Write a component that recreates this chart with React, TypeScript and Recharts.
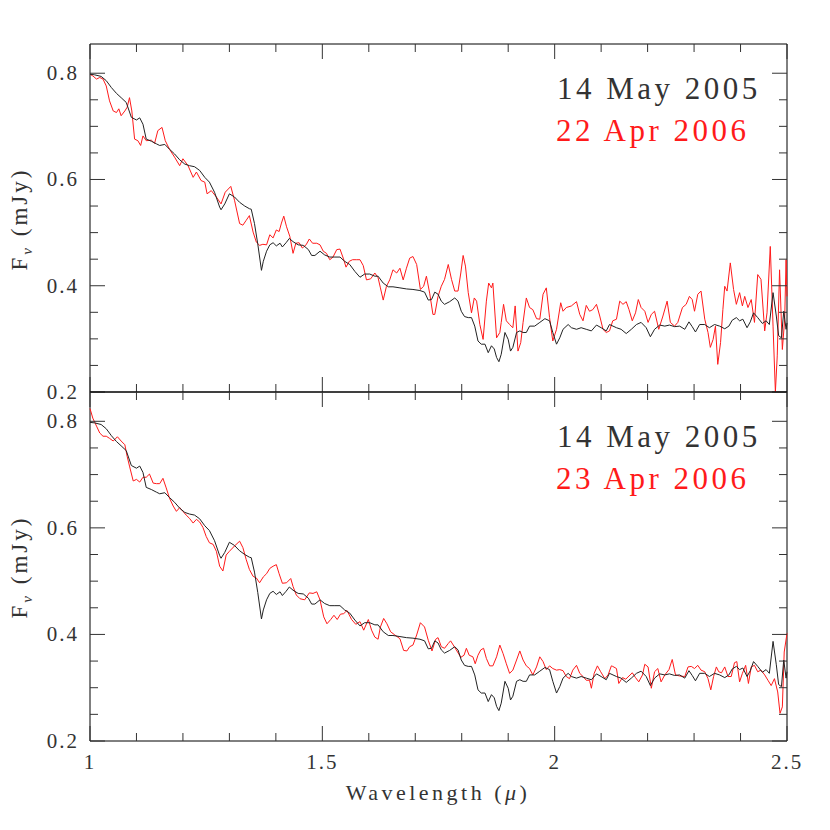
import React from "react";
import { LineChart, Line, XAxis, YAxis, ReferenceArea } from "recharts";

// Axis ticks (microns / mJy)
const wavelengthTicks = [1, 1.1, 1.2, 1.3, 1.4, 1.5, 1.6, 1.7, 1.8, 1.9, 2, 2.1, 2.2, 2.3, 2.4, 2.5];
const wavelengthLabels = [1, 1.5, 2, 2.5];
const fluxTicks = [0.2, 0.25, 0.3, 0.35, 0.4, 0.45, 0.5, 0.55, 0.6, 0.65, 0.7, 0.75, 0.8];
const fluxLabels = [0.2, 0.4, 0.6, 0.8];

// 14 May 2005 spectrum (black, same in both panels)
const may2005Wave = [
  1.0, 1.01, 1.024, 1.035, 1.046, 1.057, 1.067, 1.078, 1.089, 1.1, 1.107, 1.114, 1.121, 1.132, 1.143, 1.15,
  1.161, 1.171, 1.182, 1.193, 1.204, 1.214, 1.225, 1.236, 1.247, 1.257, 1.268, 1.279, 1.282, 1.29, 1.3, 1.311,
  1.322, 1.333, 1.343, 1.347, 1.354, 1.361, 1.369, 1.373, 1.38, 1.387, 1.394, 1.401, 1.409, 1.414, 1.422, 1.429,
  1.437, 1.448, 1.459, 1.47, 1.477, 1.484, 1.495, 1.505, 1.516, 1.527, 1.538, 1.548, 1.559, 1.57, 1.581, 1.591,
  1.602, 1.613, 1.62, 1.631, 1.642, 1.652, 1.667, 1.681, 1.695, 1.71, 1.72, 1.728, 1.735, 1.742, 1.749, 1.756,
  1.763, 1.774, 1.785, 1.792, 1.799, 1.806, 1.814, 1.821, 1.828, 1.835, 1.842, 1.85, 1.857, 1.864, 1.87, 1.875,
  1.88, 1.885, 1.893, 1.9, 1.905, 1.91, 1.918, 1.925, 1.932, 1.939, 1.946, 1.957, 1.968, 1.979, 1.989, 1.996,
  2.004, 2.011, 2.018, 2.029, 2.036, 2.047, 2.057, 2.068, 2.079, 2.09, 2.1, 2.111, 2.118, 2.133, 2.143, 2.154,
  2.165, 2.176, 2.186, 2.197, 2.206, 2.215, 2.226, 2.237, 2.247, 2.258, 2.269, 2.28, 2.289, 2.296, 2.303, 2.312,
  2.323, 2.333, 2.344, 2.355, 2.366, 2.375, 2.382, 2.391, 2.398, 2.405, 2.414, 2.421, 2.428, 2.437, 2.447, 2.455,
  2.462, 2.47, 2.477, 2.482, 2.488, 2.493, 2.498, 2.5,
];
const may2005Flux = [
  0.798, 0.797, 0.794, 0.786, 0.773, 0.762, 0.754, 0.745, 0.717, 0.712, 0.716, 0.704, 0.676, 0.672, 0.667, 0.664,
  0.666, 0.657, 0.648, 0.637, 0.629, 0.626, 0.624, 0.617, 0.604, 0.595, 0.576, 0.548, 0.543, 0.554, 0.573, 0.567,
  0.557, 0.55, 0.545, 0.544, 0.517, 0.479, 0.429, 0.446, 0.465, 0.477, 0.481, 0.475, 0.48, 0.473, 0.481, 0.489,
  0.483, 0.477, 0.476, 0.468, 0.457, 0.457, 0.465, 0.458, 0.454, 0.454, 0.454, 0.446, 0.44, 0.427, 0.416, 0.422,
  0.422, 0.418, 0.418, 0.405, 0.398, 0.398, 0.396, 0.394, 0.393, 0.391, 0.388, 0.373, 0.374, 0.388, 0.384, 0.371,
  0.365, 0.37, 0.377, 0.371, 0.352, 0.342, 0.34, 0.34, 0.324, 0.296, 0.29, 0.29, 0.274, 0.287, 0.281, 0.265,
  0.257, 0.271, 0.312, 0.299, 0.277, 0.284, 0.312, 0.315, 0.312, 0.312, 0.324, 0.324, 0.331, 0.338, 0.334, 0.312,
  0.29, 0.302, 0.318, 0.327, 0.321, 0.318, 0.321, 0.318, 0.315, 0.326, 0.321, 0.315, 0.327, 0.321, 0.318, 0.31,
  0.318, 0.327, 0.331, 0.321, 0.304, 0.318, 0.326, 0.324, 0.326, 0.323, 0.324, 0.318, 0.332, 0.323, 0.313, 0.327,
  0.327, 0.321, 0.327, 0.324, 0.319, 0.324, 0.335, 0.34, 0.334, 0.337, 0.321, 0.332, 0.349, 0.34, 0.329, 0.334,
  0.327, 0.387, 0.343, 0.306, 0.302, 0.352, 0.318, 0.33,
];

// 22 Apr 2006 spectrum (red, top panel)
const apr22Wave = [
  1.0, 1.006, 1.014, 1.021, 1.028, 1.035, 1.042, 1.05, 1.057, 1.062, 1.067, 1.075, 1.08, 1.085, 1.09, 1.096,
  1.103, 1.109, 1.114, 1.121, 1.132, 1.139, 1.146, 1.155, 1.162, 1.171, 1.182, 1.193, 1.2, 1.211, 1.222, 1.229,
  1.239, 1.247, 1.252, 1.261, 1.272, 1.282, 1.291, 1.303, 1.311, 1.322, 1.329, 1.336, 1.343, 1.351, 1.358, 1.365,
  1.372, 1.38, 1.387, 1.394, 1.401, 1.407, 1.412, 1.417, 1.423, 1.43, 1.437, 1.443, 1.45, 1.457, 1.465, 1.472,
  1.479, 1.488, 1.495, 1.502, 1.509, 1.516, 1.523, 1.531, 1.538, 1.545, 1.551, 1.558, 1.565, 1.574, 1.581, 1.588,
  1.595, 1.604, 1.613, 1.62, 1.625, 1.631, 1.638, 1.645, 1.652, 1.66, 1.667, 1.674, 1.681, 1.688, 1.695, 1.703,
  1.711, 1.718, 1.724, 1.731, 1.738, 1.742, 1.749, 1.756, 1.763, 1.771, 1.778, 1.785, 1.792, 1.798, 1.803, 1.808,
  1.814, 1.821, 1.827, 1.832, 1.839, 1.846, 1.853, 1.858, 1.864, 1.867, 1.875, 1.882, 1.885, 1.89, 1.896, 1.903,
  1.91, 1.915, 1.921, 1.927, 1.932, 1.939, 1.946, 1.953, 1.961, 1.968, 1.975, 1.982, 1.989, 1.996, 2.004, 2.013,
  2.018, 2.025, 2.036, 2.047, 2.054, 2.061, 2.068, 2.075, 2.082, 2.09, 2.097, 2.104, 2.111, 2.118, 2.125, 2.133,
  2.14, 2.147, 2.154, 2.16, 2.167, 2.174, 2.18, 2.186, 2.194, 2.201, 2.208, 2.215, 2.224, 2.233, 2.242, 2.249,
  2.258, 2.265, 2.275, 2.283, 2.29, 2.296, 2.301, 2.308, 2.315, 2.323, 2.33, 2.335, 2.341, 2.346, 2.351, 2.357,
  2.362, 2.366, 2.371, 2.378, 2.385, 2.391, 2.398, 2.404, 2.409, 2.416, 2.423, 2.43, 2.437, 2.444, 2.452, 2.457,
  2.464, 2.47, 2.475, 2.479, 2.484, 2.49, 2.495, 2.498, 2.5,
];
const apr22Flux = [
  0.798, 0.795, 0.789, 0.792, 0.789, 0.776, 0.748, 0.729, 0.726, 0.733, 0.72, 0.729, 0.736, 0.754, 0.729, 0.676,
  0.673, 0.664, 0.682, 0.673, 0.674, 0.668, 0.692, 0.698, 0.673, 0.657, 0.642, 0.626, 0.639, 0.626, 0.604, 0.614,
  0.598, 0.595, 0.573, 0.579, 0.567, 0.554, 0.576, 0.587, 0.561, 0.517, 0.514, 0.523, 0.532, 0.501, 0.482, 0.476,
  0.478, 0.477, 0.496, 0.49, 0.505, 0.502, 0.518, 0.531, 0.511, 0.493, 0.461, 0.48, 0.481, 0.471, 0.477, 0.488,
  0.48, 0.48, 0.477, 0.465, 0.461, 0.449, 0.454, 0.468, 0.469, 0.452, 0.435, 0.446, 0.449, 0.449, 0.449, 0.438,
  0.411, 0.413, 0.424, 0.415, 0.396, 0.373, 0.399, 0.411, 0.43, 0.424, 0.433, 0.411, 0.433, 0.452, 0.455, 0.44,
  0.393, 0.399, 0.418, 0.386, 0.346, 0.346, 0.38, 0.399, 0.412, 0.44, 0.412, 0.39, 0.39, 0.424, 0.457, 0.437,
  0.387, 0.349, 0.377, 0.371, 0.327, 0.299, 0.371, 0.405, 0.396, 0.405, 0.302, 0.312, 0.331, 0.365, 0.334, 0.327,
  0.321, 0.362, 0.277, 0.293, 0.331, 0.377, 0.359, 0.355, 0.338, 0.337, 0.384, 0.396, 0.34, 0.296, 0.318, 0.368,
  0.352, 0.359, 0.362, 0.37, 0.346, 0.334, 0.363, 0.352, 0.355, 0.365, 0.343, 0.318, 0.312, 0.315, 0.334, 0.337,
  0.371, 0.365, 0.37, 0.355, 0.334, 0.349, 0.374, 0.359, 0.352, 0.331, 0.346, 0.352, 0.318, 0.343, 0.371, 0.331,
  0.324, 0.331, 0.359, 0.365, 0.38, 0.374, 0.352, 0.384, 0.39, 0.337, 0.312, 0.284, 0.299, 0.324, 0.252, 0.293,
  0.355, 0.399, 0.39, 0.443, 0.393, 0.365, 0.387, 0.362, 0.38, 0.359, 0.374, 0.331, 0.421, 0.412, 0.315, 0.349,
  0.474, 0.324, 0.2, 0.268, 0.43, 0.28, 0.337, 0.449, 0.38,
];

// 23 Apr 2006 spectrum (red, bottom panel)
const apr23Wave = [
  1.0, 1.006, 1.014, 1.021, 1.028, 1.035, 1.042, 1.05, 1.059, 1.067, 1.075, 1.08, 1.085, 1.093, 1.1, 1.107,
  1.114, 1.121, 1.128, 1.136, 1.143, 1.15, 1.157, 1.164, 1.171, 1.179, 1.186, 1.193, 1.2, 1.207, 1.214, 1.222,
  1.229, 1.236, 1.243, 1.25, 1.257, 1.265, 1.272, 1.279, 1.286, 1.293, 1.3, 1.311, 1.322, 1.329, 1.336, 1.343,
  1.351, 1.358, 1.365, 1.373, 1.38, 1.387, 1.394, 1.401, 1.407, 1.414, 1.423, 1.432, 1.437, 1.444, 1.452, 1.462,
  1.472, 1.48, 1.488, 1.495, 1.503, 1.51, 1.518, 1.525, 1.532, 1.539, 1.546, 1.553, 1.563, 1.572, 1.581, 1.589,
  1.599, 1.606, 1.613, 1.62, 1.625, 1.632, 1.639, 1.647, 1.656, 1.667, 1.675, 1.682, 1.688, 1.695, 1.703, 1.711,
  1.72, 1.728, 1.736, 1.744, 1.749, 1.756, 1.763, 1.771, 1.776, 1.784, 1.791, 1.798, 1.805, 1.81, 1.816, 1.824,
  1.829, 1.835, 1.841, 1.847, 1.853, 1.86, 1.867, 1.875, 1.882, 1.889, 1.896, 1.903, 1.91, 1.918, 1.925, 1.932,
  1.939, 1.946, 1.953, 1.961, 1.968, 1.975, 1.982, 1.989, 1.996, 2.004, 2.011, 2.018, 2.025, 2.032, 2.039, 2.047,
  2.054, 2.061, 2.068, 2.075, 2.079, 2.085, 2.092, 2.099, 2.108, 2.115, 2.122, 2.125, 2.133, 2.138, 2.146, 2.153,
  2.16, 2.167, 2.174, 2.181, 2.189, 2.194, 2.201, 2.208, 2.215, 2.222, 2.229, 2.237, 2.246, 2.253, 2.26, 2.269,
  2.28, 2.287, 2.294, 2.301, 2.308, 2.315, 2.323, 2.33, 2.336, 2.342, 2.348, 2.353, 2.359, 2.366, 2.373, 2.38,
  2.387, 2.392, 2.398, 2.404, 2.411, 2.417, 2.423, 2.43, 2.437, 2.444, 2.452, 2.459, 2.466, 2.473, 2.48, 2.485,
  2.49, 2.494, 2.5,
];
const apr23Flux = [
  0.824, 0.806, 0.791, 0.778, 0.772, 0.772, 0.768, 0.763, 0.771, 0.763, 0.756, 0.734, 0.716, 0.688, 0.691, 0.686,
  0.695, 0.695, 0.701, 0.684, 0.683, 0.683, 0.693, 0.675, 0.656, 0.641, 0.631, 0.638, 0.631, 0.624, 0.618, 0.609,
  0.616, 0.611, 0.601, 0.584, 0.572, 0.569, 0.556, 0.528, 0.519, 0.549, 0.556, 0.566, 0.575, 0.563, 0.541, 0.522,
  0.509, 0.506, 0.497, 0.508, 0.514, 0.524, 0.528, 0.531, 0.514, 0.496, 0.497, 0.505, 0.49, 0.474, 0.467, 0.465,
  0.478, 0.477, 0.48, 0.465, 0.433, 0.42, 0.428, 0.436, 0.428, 0.438, 0.439, 0.445, 0.428, 0.419, 0.424, 0.408,
  0.428, 0.408, 0.395, 0.391, 0.414, 0.43, 0.42, 0.405, 0.399, 0.392, 0.37, 0.369, 0.377, 0.38, 0.399, 0.422,
  0.414, 0.389, 0.369, 0.391, 0.394, 0.377, 0.374, 0.383, 0.388, 0.377, 0.367, 0.357, 0.361, 0.374, 0.361, 0.358,
  0.345, 0.361, 0.371, 0.374, 0.355, 0.341, 0.341, 0.358, 0.38, 0.364, 0.345, 0.327, 0.333, 0.352, 0.369, 0.352,
  0.341, 0.336, 0.324, 0.339, 0.358, 0.349, 0.334, 0.341, 0.336, 0.333, 0.334, 0.332, 0.321, 0.317, 0.333, 0.342,
  0.327, 0.321, 0.314, 0.314, 0.299, 0.327, 0.341, 0.33, 0.317, 0.324, 0.341, 0.34, 0.336, 0.308, 0.319, 0.316,
  0.322, 0.328, 0.319, 0.311, 0.324, 0.344, 0.339, 0.299, 0.33, 0.336, 0.311, 0.324, 0.334, 0.353, 0.324, 0.322,
  0.321, 0.339, 0.34, 0.336, 0.342, 0.333, 0.33, 0.317, 0.296, 0.321, 0.339, 0.33, 0.328, 0.339, 0.321, 0.321,
  0.347, 0.349, 0.311, 0.327, 0.342, 0.308, 0.339, 0.342, 0.33, 0.333, 0.324, 0.314, 0.304, 0.317, 0.292, 0.252,
  0.264, 0.367, 0.402,
];

const toPoints = (wave: number[], flux: number[]) =>
  wave.map((w, i) => ({ w, f: flux[i] }));

const may2005 = toPoints(may2005Wave, may2005Flux);
const apr22 = toPoints(apr22Wave, apr22Flux);
const apr23 = toPoints(apr23Wave, apr23Flux);

const FONT = "'Liberation Serif', 'DejaVu Serif', serif";
const INK = "#333";
const RED = "#ff1a1a";
const PLOT_LEFT = 90;
const PLOT_RIGHT = 787;
const Y_DOMAIN: [number, number] = [0.2, 0.855];

const isMajor = (v: number, majors: number[]) =>
  majors.some((m) => Math.abs(m - v) < 1e-6);

const XTick = ({ x, payload, plotTop, plotBottom, showLabel }: any) => {
  const major = isMajor(payload.value, wavelengthLabels);
  const len = major ? 15 : 8;
  return (
    <g>
      <line x1={x} x2={x} y1={plotBottom} y2={plotBottom - len} stroke="#333" />
      <line x1={x} x2={x} y1={plotTop} y2={plotTop + len} stroke="#333" />
      {showLabel && major && (
        <text
          x={x}
          y={plotBottom + 28}
          textAnchor="middle"
          fontFamily={FONT}
          fontSize={21}
          letterSpacing={2}
          fill={INK}
        >
          {payload.value}
        </text>
      )}
    </g>
  );
};

const YTick = ({ y, payload }: any) => {
  const major = isMajor(payload.value, fluxLabels);
  const len = major ? 15 : 8;
  return (
    <g>
      <line x1={PLOT_LEFT} x2={PLOT_LEFT + len} y1={y} y2={y} stroke="#333" />
      <line x1={PLOT_RIGHT - len} x2={PLOT_RIGHT} y1={y} y2={y} stroke="#333" />
      {major && (
        <text
          x={79}
          y={y + 7}
          textAnchor="end"
          fontFamily={FONT}
          fontSize={21}
          letterSpacing={2}
          fill={INK}
        >
          {payload.value}
        </text>
      )}
    </g>
  );
};

interface PanelProps {
  plotTop: number;
  plotBottom: number;
  red: { w: number; f: number }[];
  showLabels: boolean;
}

const Panel: React.FC<PanelProps> = ({ plotTop, plotBottom, red, showLabels }) => (
  <div style={{ position: "absolute", left: 0, top: 0 }}>
    <LineChart
      width={830}
      height={830}
      margin={{ top: plotTop, right: 830 - PLOT_RIGHT, bottom: 830 - plotBottom - 30, left: PLOT_LEFT - 60 }}
    >
      <XAxis
        type="number"
        dataKey="w"
        domain={[1, 2.5]}
        ticks={wavelengthTicks}
        interval={0}
        height={30}
        axisLine={false}
        tickLine={false}
        tick={(p: any) => (
          <XTick {...p} plotTop={plotTop} plotBottom={plotBottom} showLabel={showLabels} />
        )}
      />
      <YAxis
        type="number"
        dataKey="f"
        domain={Y_DOMAIN}
        allowDataOverflow
        ticks={fluxTicks}
        interval={0}
        width={60}
        axisLine={false}
        tickLine={false}
        tick={(p: any) => <YTick {...p} />}
      />
      <ReferenceArea
        x1={1}
        x2={2.5}
        y1={Y_DOMAIN[0]}
        y2={Y_DOMAIN[1]}
        fill="none"
        stroke="#000"
        strokeWidth={1}
      />
      <Line
        data={red}
        dataKey="f"
        type="linear"
        stroke={RED}
        strokeWidth={1}
        dot={false}
        isAnimationActive={false}
      />
      <Line
        data={may2005}
        dataKey="f"
        type="linear"
        stroke="#222"
        strokeWidth={1}
        dot={false}
        isAnimationActive={false}
      />
    </LineChart>
  </div>
);

const YLabel = ({ cy }: { cy: number }) => (
  <text
    x={27}
    y={cy}
    transform={`rotate(-90, 27, ${cy})`}
    textAnchor="middle"
    fontFamily={FONT}
    fontSize={23}
    letterSpacing={3}
    fill={INK}
  >
    F<tspan dy={5} fontSize={15} fontStyle="italic">ν</tspan>
    <tspan dy={-5}> (mJy)</tspan>
  </text>
);

const Legend = ({ baseline, redLabel }: { baseline: number; redLabel: string }) => (
  <g fontFamily={FONT} fontSize={31} letterSpacing={3.5}>
    <text x={557} y={baseline} fill={INK}>
      14 May 2005
    </text>
    <text x={556} y={baseline + 42} fill={RED}>
      {redLabel}
    </text>
  </g>
);

export default function App() {
  return (
    <div style={{ position: "absolute", left: 0, top: 0, width: 830, height: 830, background: "#fff" }}>
      <Panel plotTop={44} plotBottom={392} red={apr22} showLabels={false} />
      <Panel plotTop={392} plotBottom={741} red={apr23} showLabels={true} />
      <svg
        width={830}
        height={830}
        style={{ position: "absolute", left: 0, top: 0, pointerEvents: "none" }}
      >
        <YLabel cy={219} />
        <YLabel cy={567} />
        <Legend baseline={99} redLabel="22 Apr 2006" />
        <Legend baseline={447} redLabel="23 Apr 2006" />
        <text
          x={438}
          y={800}
          textAnchor="middle"
          fontFamily={FONT}
          fontSize={22}
          letterSpacing={3.5}
          fill={INK}
        >
          Wavelength (<tspan fontStyle="italic">μ</tspan>)
        </text>
      </svg>
    </div>
  );
}
